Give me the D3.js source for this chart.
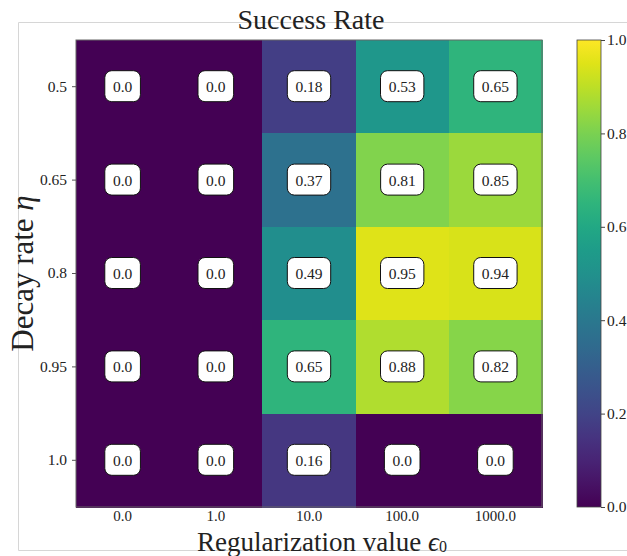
<!DOCTYPE html>
<html>
<head>
<meta charset="utf-8">
<script src="https://cdn.jsdelivr.net/npm/d3@7"></script>
<style>
  html, body { margin: 0; padding: 0; background: #fff; }
  svg text { font-family: "Liberation Serif", "DejaVu Serif", serif; fill: #222; }
</style>
</head>
<body>
<svg id="chart" width="627" height="556"></svg>
<script>
// Grid axes
const epsilons = ["0.0", "1.0", "10.0", "100.0", "1000.0"];
const etas = ["0.5", "0.65", "0.8", "0.95", "1.0"];

// Success rate per decay rate (rows) and regularization value (columns)
const rowEta05  = [0.0, 0.0, 0.18, 0.53, 0.65];
const rowEta065 = [0.0, 0.0, 0.37, 0.81, 0.85];
const rowEta08  = [0.0, 0.0, 0.49, 0.95, 0.94];
const rowEta095 = [0.0, 0.0, 0.65, 0.88, 0.82];
const rowEta10  = [0.0, 0.0, 0.16, 0.0, 0.0];
const rows = [rowEta05, rowEta065, rowEta08, rowEta095, rowEta10];

const colorTicks = [0.0, 0.2, 0.4, 0.6, 0.8, 1.0];

const cells = [];
rows.forEach((r, i) => r.forEach((v, j) => cells.push({ eta: etas[i], eps: epsilons[j], v })));

const fmt = v => Number.isInteger(v) ? v.toFixed(1) : String(v);

const svg = d3.select("#chart");

// figure frame
svg.append("path")
  .attr("d", "M640,22.5 H18.5 V550.5 H640")
  .attr("fill", "none").attr("stroke", "#d6d6d6").attr("stroke-width", 1);

const plot = { left: 76, right: 542, top: 40, bottom: 507 };

const x = d3.scaleBand().domain(epsilons).range([plot.left, plot.right]);
const y = d3.scaleBand().domain(etas).range([plot.top, plot.bottom]);
const color = d3.scaleSequential(d3.interpolateViridis).domain([0, 1]);

svg.append("g").attr("shape-rendering", "crispEdges")
  .selectAll("rect").data(cells).join("rect")
  .attr("x", d => x(d.eps)).attr("y", d => y(d.eta))
  .attr("width", x.bandwidth() + 1).attr("height", y.bandwidth() + 1)
  .attr("fill", d => color(d.v));

svg.append("rect")
  .attr("x", plot.left).attr("y", plot.top)
  .attr("width", plot.right - plot.left).attr("height", plot.bottom - plot.top)
  .attr("fill", "none").attr("stroke", "#666").attr("stroke-width", 1);

// value labels in rounded boxes
const labels = svg.append("g").selectAll("g").data(cells).join("g")
  .attr("transform", d => `translate(${x(d.eps) + x.bandwidth() / 2},${y(d.eta) + y.bandwidth() / 2})`);
labels.append("text")
  .attr("text-anchor", "middle").attr("dy", "0.35em")
  .style("font-size", "15.5px")
  .text(d => fmt(d.v));
labels.each(function () {
  const g = d3.select(this);
  const bb = g.select("text").node().getBBox();
  const w = bb.width + 16, h = 31;
  g.insert("rect", "text")
    .attr("x", -w / 2).attr("y", -h / 2 - 0.5)
    .attr("width", w).attr("height", h)
    .attr("rx", 7).attr("ry", 7)
    .attr("fill", "#fff").attr("stroke", "#111").attr("stroke-width", 1);
});

// axes
const xAxis = svg.append("g").attr("transform", `translate(0,${plot.bottom})`)
  .call(d3.axisBottom(x).tickSize(0).tickPadding(3));
xAxis.select(".domain").remove();
xAxis.selectAll("text").style("font-size", "15px").attr("fill", "#333");

const yAxis = svg.append("g").attr("transform", `translate(${plot.left},0)`)
  .call(d3.axisLeft(y).tickSize(4).tickPadding(5));
yAxis.select(".domain").remove();
yAxis.selectAll("line").attr("stroke", "#555");
yAxis.selectAll("text").style("font-size", "15.5px").attr("fill", "#333");

// titles
svg.append("text").attr("x", 311).attr("y", 29).attr("text-anchor", "middle")
  .style("font-size", "28px").text("Success Rate");

const xl = svg.append("text").attr("x", 322).attr("y", 551).attr("text-anchor", "middle")
  .style("font-size", "27px");
xl.append("tspan").text("Regularization value ");
xl.append("tspan").style("font-style", "italic").text("ϵ");
xl.append("tspan").attr("dy", 1).style("font-size", "16px").text("0");

const yl = svg.append("text")
  .attr("transform", `translate(33,${(plot.top + plot.bottom) / 2}) rotate(-90)`)
  .attr("text-anchor", "middle").style("font-size", "31px");
yl.append("tspan").text("Decay rate ");
yl.append("tspan").style("font-style", "italic").text("η");

// colorbar
const cb = { left: 577, width: 24 };
const defs = svg.append("defs");
const grad = defs.append("linearGradient").attr("id", "viridisGrad")
  .attr("x1", 0).attr("y1", 1).attr("x2", 0).attr("y2", 0);
d3.range(0, 1.0001, 0.05).forEach(t => {
  grad.append("stop").attr("offset", t).attr("stop-color", color(t));
});
svg.append("rect")
  .attr("x", cb.left).attr("y", plot.top)
  .attr("width", cb.width).attr("height", plot.bottom - plot.top)
  .attr("fill", "url(#viridisGrad)").attr("stroke", "#444").attr("stroke-width", 0.8);

const cScale = d3.scaleLinear().domain([0, 1]).range([plot.bottom, plot.top]);
const cAxis = svg.append("g").attr("transform", `translate(${cb.left + cb.width},0)`)
  .call(d3.axisRight(cScale).tickValues(colorTicks).tickFormat(d3.format(".1f")).tickSize(4).tickPadding(2));
cAxis.select(".domain").remove();
cAxis.selectAll("line").attr("stroke", "#444");
cAxis.selectAll("text").style("font-size", "15.5px").attr("fill", "#333");
</script>
</body>
</html>
